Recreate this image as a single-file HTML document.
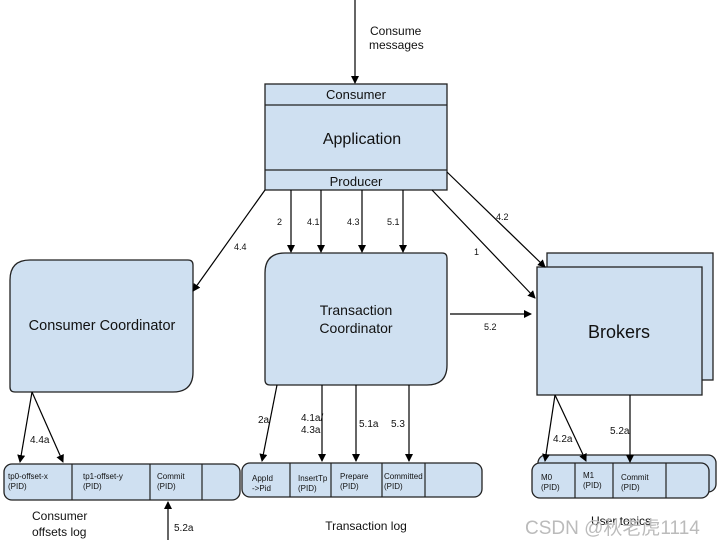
<!DOCTYPE html>
<html><head><style>body{margin:0;background:#fff}svg{display:block}text{font-family:"Liberation Sans","Noto Sans CJK SC",sans-serif;fill:#111}</style></head><body>
<svg width="720" height="546" viewBox="0 0 720 546" xmlns="http://www.w3.org/2000/svg">
<defs><marker id="a" markerWidth="8" markerHeight="8" refX="7" refY="4" orient="auto" markerUnits="userSpaceOnUse"><path d="M0,0 L8,4 L0,8 z" fill="#000"/></marker></defs>
<g stroke="#222" stroke-width="1.3" fill="#cfe0f1">
<rect x="265" y="84" width="182" height="106"/>
<line x1="265" y1="105" x2="447" y2="105"/><line x1="265" y1="170" x2="447" y2="170"/>
<path d="M30,260 H188 Q193,260 193,265 V372 Q193,392 173,392 H15 Q10,392 10,387 V280 Q10,260 30,260 Z"/>
<path d="M285,253 H442 Q447,253 447,258 V365 Q447,385 427,385 H270 Q265,385 265,380 V273 Q265,253 285,253 Z"/>
<rect x="547" y="253" width="166" height="127"/>
<rect x="537" y="267" width="165" height="128"/>
<rect x="4" y="464" width="236" height="36" rx="8"/>
<rect x="242" y="463" width="240" height="34" rx="8"/>
<rect x="538" y="455" width="178" height="37" rx="8"/>
<rect x="532" y="463" width="177" height="35" rx="8"/>
</g>
<g stroke="#222" stroke-width="1.2">
<line x1="72" y1="464" x2="72" y2="500"/><line x1="150" y1="464" x2="150" y2="500"/><line x1="202" y1="464" x2="202" y2="500"/>
<line x1="290" y1="463" x2="290" y2="497"/><line x1="331" y1="463" x2="331" y2="497"/><line x1="382" y1="463" x2="382" y2="497"/><line x1="425" y1="463" x2="425" y2="497"/>
<line x1="575" y1="463" x2="575" y2="498"/><line x1="613" y1="463" x2="613" y2="498"/><line x1="666" y1="463" x2="666" y2="498"/>
</g>
<g stroke="#000" stroke-width="1.2" marker-end="url(#a)">
<line x1="355" y1="0" x2="355" y2="83"/>
<line x1="291" y1="190" x2="291" y2="252"/><line x1="321" y1="190" x2="321" y2="252"/><line x1="362" y1="190" x2="362" y2="252"/><line x1="403" y1="190" x2="403" y2="252"/>
<line x1="265" y1="190" x2="193" y2="291"/>
<line x1="447" y1="172" x2="545" y2="267"/>
<line x1="432" y1="190" x2="535" y2="298"/>
<line x1="450" y1="314" x2="531" y2="314"/>
<line x1="32" y1="392" x2="20" y2="462"/><line x1="32" y1="392" x2="63" y2="462"/>
<line x1="168" y1="540" x2="168" y2="502"/>
<line x1="277" y1="385" x2="262" y2="461"/><line x1="322" y1="385" x2="322" y2="461"/><line x1="356" y1="385" x2="356" y2="461"/><line x1="409" y1="385" x2="409" y2="461"/>
<line x1="555" y1="395" x2="545" y2="461"/><line x1="555" y1="395" x2="586" y2="461"/>
<line x1="630" y1="395" x2="630" y2="462"/>
</g>
<g font-size="12"><text x="370" y="35">Consume</text><text x="369" y="49">messages</text></g>
<text x="356" y="99" font-size="13" text-anchor="middle">Consumer</text>
<text x="362" y="144" font-size="16" text-anchor="middle">Application</text>
<text x="356" y="186" font-size="13" text-anchor="middle">Producer</text>
<text x="102" y="330" font-size="14.5" text-anchor="middle">Consumer Coordinator</text>
<text x="356" y="315" font-size="14" text-anchor="middle">Transaction</text>
<text x="356" y="333" font-size="14" text-anchor="middle">Coordinator</text>
<text x="619" y="338" font-size="18" text-anchor="middle">Brokers</text>
<g font-size="9"><text x="277" y="225">2</text><text x="307" y="225">4.1</text><text x="347" y="225">4.3</text><text x="387" y="225">5.1</text><text x="234" y="250">4.4</text><text x="496" y="220">4.2</text><text x="474" y="255">1</text><text x="484" y="330">5.2</text></g>
<g font-size="10"><text x="30" y="443">4.4a</text><text x="258" y="423">2a</text><text x="301" y="421">4.1a/</text><text x="301" y="433">4.3a</text><text x="359" y="427">5.1a</text><text x="391" y="427">5.3</text><text x="553" y="442">4.2a</text><text x="610" y="434">5.2a</text><text x="174" y="531">5.2a</text></g>
<g font-size="8"><text x="8" y="479">tp0-offset-x</text><text x="8" y="489">(PID)</text><text x="83" y="479">tp1-offset-y</text><text x="83" y="489">(PID)</text><text x="157" y="479">Commit</text><text x="157" y="489">(PID)</text>
<text x="252" y="481">AppId</text><text x="252" y="491">-&gt;Pid</text><text x="298" y="481">InsertTp</text><text x="298" y="491">(PID)</text><text x="340" y="479">Prepare</text><text x="340" y="489">(PID)</text><text x="384" y="479">Committed</text><text x="384" y="489">(PID)</text>
<text x="541" y="480">M0</text><text x="541" y="490">(PID)</text><text x="583" y="478">M1</text><text x="583" y="488">(PID)</text><text x="621" y="480">Commit</text><text x="621" y="490">(PID)</text></g>
<text x="32" y="520" font-size="12">Consumer</text><text x="32" y="536" font-size="12">offsets log</text>
<text x="366" y="530" font-size="12" text-anchor="middle">Transaction log</text>
<text x="591" y="525" font-size="12">User topics</text>
<text x="525" y="534" font-size="19" style="fill:#bbb">CSDN @秋老虎1114</text>
</svg>
</body></html>
